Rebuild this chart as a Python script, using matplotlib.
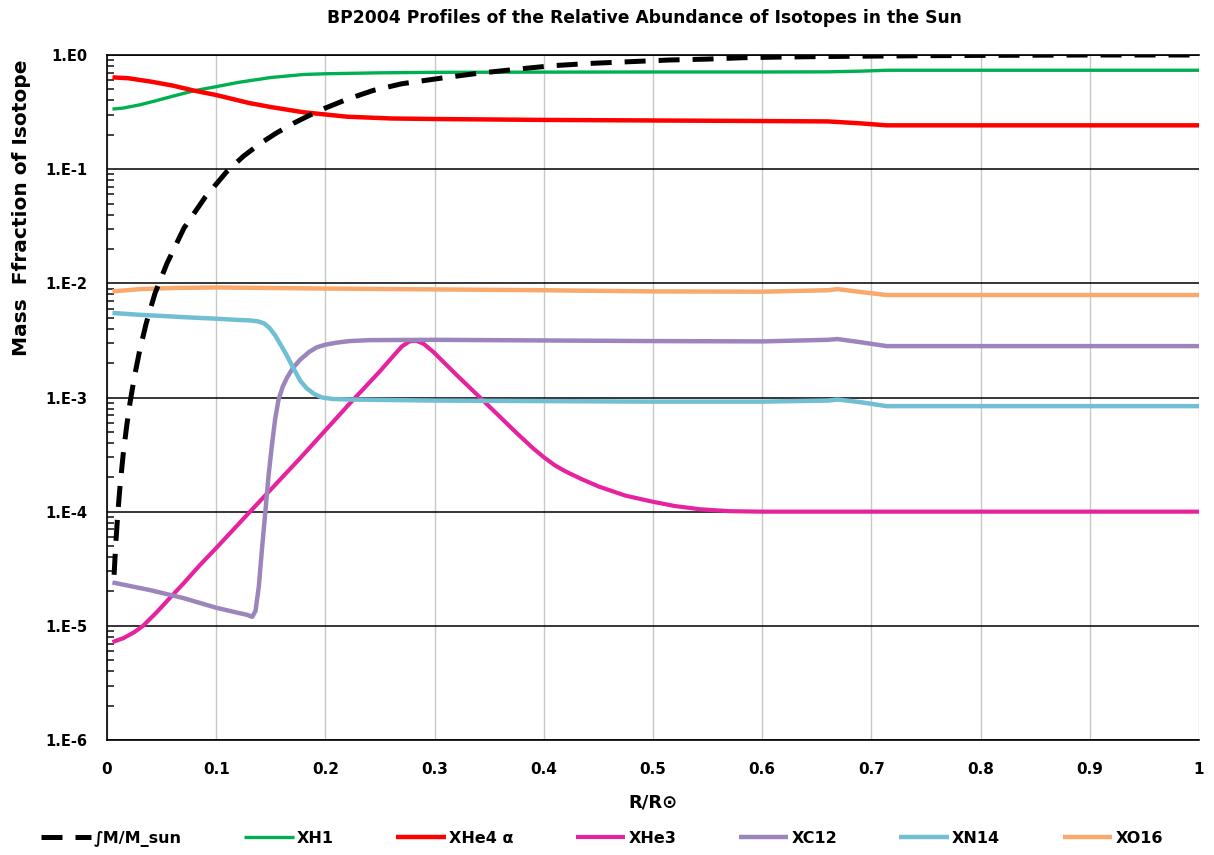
import numpy as np
import matplotlib
matplotlib.use("Agg")
import matplotlib.pyplot as plt
from matplotlib.ticker import LogLocator, FuncFormatter, FixedLocator, NullFormatter

plt.rcParams["font.family"] = ["DejaVu Sans"]

# Enclosed mass fraction
r_mass = [0.0065, 0.008, 0.010, 0.012, 0.015, 0.018, 0.021, 0.025, 0.030, 0.036,
          0.044, 0.055, 0.0705, 0.090, 0.110, 0.125, 0.140, 0.155, 0.171, 0.185,
          0.200, 0.220, 0.244, 0.270, 0.305, 0.339, 0.375, 0.408, 0.445, 0.479,
          0.515, 0.549, 0.583, 0.620, 0.660, 0.700, 0.750, 0.800, 0.850, 0.900,
          1.000]
m_frac = [2.8e-5, 5.2e-5, 1.0e-4, 1.7e-4, 3.3e-4, 5.6e-4, 8.9e-4, 1.5e-3, 2.6e-3, 4.5e-3,
          8.2e-3, 1.5e-2, 3.05e-2, 5.7e-2, 0.096, 0.130, 0.167, 0.207, 0.253, 0.295,
          0.343, 0.410, 0.490, 0.560, 0.625, 0.690, 0.750, 0.806, 0.846, 0.874,
          0.904, 0.920, 0.947, 0.960, 0.970, 0.978, 0.986, 0.992, 0.996, 1.000,
          1.000]

# Hydrogen
r_h1 = [0.005, 0.015, 0.03, 0.045, 0.06, 0.08, 0.10, 0.12, 0.15, 0.18, 0.20, 0.25,
        0.30, 0.40, 0.50, 0.60, 0.66, 0.69, 0.714, 0.80, 0.90, 1.00]
x_h1 = [0.336, 0.343, 0.366, 0.398, 0.435, 0.487, 0.528, 0.575, 0.635, 0.675, 0.685, 0.698,
        0.705, 0.708, 0.71, 0.71, 0.712, 0.722, 0.735, 0.735, 0.735, 0.735]

# Helium-4
r_he4 = [0.005, 0.02, 0.04, 0.06, 0.08, 0.10, 0.13, 0.15, 0.18, 0.22, 0.26, 0.30,
         0.40, 0.50, 0.60, 0.66, 0.69, 0.714, 0.80, 0.90, 1.00]
x_he4 = [0.637, 0.625, 0.585, 0.54, 0.487, 0.446, 0.38, 0.35, 0.315, 0.288, 0.278, 0.275,
         0.27, 0.267, 0.264, 0.262, 0.252, 0.242, 0.242, 0.242, 0.242]

# Helium-3
r_he3 = [0.005, 0.015, 0.025, 0.033, 0.045, 0.055, 0.070, 0.085, 0.100, 0.131,
         0.177, 0.222, 0.250, 0.262, 0.270, 0.277, 0.283, 0.290, 0.299, 0.320,
         0.344, 0.375, 0.390, 0.400, 0.410, 0.420, 0.435, 0.451, 0.475, 0.500,
         0.520, 0.543, 0.570, 0.600, 0.700, 0.800, 0.900, 1.000]
x_he3 = [7.2e-6, 7.8e-6, 8.8e-6, 1.0e-5, 1.3e-5, 1.65e-5, 2.35e-5, 3.4e-5, 4.8e-5, 1.0e-4,
         2.95e-4, 8.8e-4, 1.7e-3, 2.3e-3, 2.8e-3, 3.1e-3, 3.15e-3, 2.95e-3, 2.5e-3, 1.58e-3,
         9.5e-4, 4.9e-4, 3.6e-4, 3.0e-4, 2.55e-4, 2.25e-4, 1.92e-4, 1.65e-4, 1.38e-4, 1.22e-4,
         1.12e-4, 1.05e-4, 1.01e-4, 1.0e-4, 1.0e-4, 1.0e-4, 1.0e-4, 1.0e-4]

# Carbon-12
r_c12 = [0.005, 0.04, 0.07, 0.10, 0.12, 0.128, 0.133, 0.136, 0.139, 0.142,
         0.145, 0.148, 0.151, 0.154, 0.157, 0.161, 0.165, 0.170, 0.177, 0.185,
         0.192, 0.200, 0.210, 0.222, 0.240, 0.30, 0.40, 0.50, 0.60, 0.66,
         0.669, 0.69, 0.714, 0.80, 0.90, 1.00]
x_c12 = [2.4e-5, 2.05e-5, 1.75e-5, 1.44e-5, 1.3e-5, 1.25e-5, 1.2e-5, 1.35e-5, 2.2e-5, 4.8e-5,
         1.0e-4, 2.1e-4, 3.8e-4, 6.5e-4, 9.5e-4, 1.25e-3, 1.5e-3, 1.8e-3, 2.15e-3, 2.5e-3,
         2.75e-3, 2.9e-3, 3.02e-3, 3.12e-3, 3.18e-3, 3.2e-3, 3.16e-3, 3.12e-3, 3.1e-3, 3.2e-3,
         3.25e-3, 3.05e-3, 2.82e-3, 2.82e-3, 2.82e-3, 2.82e-3]

# Nitrogen-14
r_n14 = [0.005, 0.03, 0.055, 0.08, 0.10, 0.12, 0.130, 0.138, 0.144, 0.149,
         0.154, 0.159, 0.164, 0.170, 0.177, 0.183, 0.190, 0.197, 0.207, 0.222,
         0.30, 0.40, 0.50, 0.60, 0.66, 0.669, 0.69, 0.714, 0.80, 0.90, 1.00]
x_n14 = [5.5e-3, 5.3e-3, 5.15e-3, 5.0e-3, 4.9e-3, 4.78e-3, 4.74e-3, 4.65e-3, 4.45e-3, 4.05e-3,
         3.5e-3, 2.9e-3, 2.4e-3, 1.86e-3, 1.4e-3, 1.2e-3, 1.07e-3, 1.0e-3, 9.7e-4, 9.6e-4,
         9.4e-4, 9.3e-4, 9.2e-4, 9.2e-4, 9.4e-4, 9.6e-4, 9.1e-4, 8.4e-4, 8.4e-4, 8.4e-4, 8.4e-4]

# Oxygen-16
r_o16 = [0.005, 0.03, 0.06, 0.10, 0.20, 0.30, 0.40, 0.50, 0.60, 0.66,
         0.669, 0.69, 0.714, 0.80, 0.90, 1.00]
x_o16 = [8.5e-3, 8.9e-3, 9.1e-3, 9.2e-3, 9.0e-3, 8.85e-3, 8.7e-3, 8.5e-3, 8.45e-3, 8.7e-3,
         8.9e-3, 8.4e-3, 7.9e-3, 7.9e-3, 7.9e-3, 7.9e-3]

x_ticks = [0, 0.1, 0.2, 0.3, 0.4, 0.5, 0.6, 0.7, 0.8, 0.9, 1.0]
x_tick_labels = ["0", "0.1", "0.2", "0.3", "0.4", "0.5", "0.6", "0.7", "0.8", "0.9", "1"]

fig = plt.figure(figsize=(12.14, 8.55), dpi=100)
ax = fig.add_axes([107 / 1214, 1 - 740 / 855, 1092 / 1214, 685 / 855])

series = [
    (r_h1, x_h1, "#00b050", 2.4, "XH1"),
    (r_he4, x_he4, "#ff0000", 3.2, "XHe4 \u03b1"),
    (r_he3, x_he3, "#e6239f", 3.0, "XHe3"),
    (r_c12, x_c12, "#9b85ba", 3.2, "XC12"),
    (r_n14, x_n14, "#70bfd2", 3.2, "XN14"),
    (r_o16, x_o16, "#f9a96c", 3.2, "XO16"),
]
handles = {}
for z, (rr, vv, col, lw, lab) in enumerate(series):
    (ln,) = ax.plot(rr, vv, color=col, lw=lw, label=lab, zorder=3 + z,
                    solid_joinstyle="round", solid_capstyle="butt")
    handles[lab] = ln

(mass_line,) = ax.plot(r_mass, m_frac, color="black", lw=3.6, dashes=(4.2, 2.6),
                       label="\u222bM/M_sun", zorder=10)

ax.set_yscale("log")
ax.set_ylim(1e-6, 1)
ax.set_xlim(0, 1)

# y axis: decade labels in spreadsheet style, minor ticks inside
ax.yaxis.set_major_locator(LogLocator(base=10, numticks=10))
ax.yaxis.set_major_formatter(
    FuncFormatter(lambda v, p: "1.E%d" % int(round(np.log10(v)))))
ax.yaxis.set_minor_locator(LogLocator(base=10, subs=np.arange(2, 10), numticks=20))
ax.yaxis.set_minor_formatter(NullFormatter())
ax.tick_params(axis="y", which="major", length=0, pad=14, labelsize=10.5)
ax.tick_params(axis="y", which="minor", direction="in", length=5, width=1.3,
               color="#333333")
for t in ax.get_yticklabels():
    t.set_fontweight("bold")

ax.xaxis.set_major_locator(FixedLocator(x_ticks))
ax.set_xticklabels(x_tick_labels, fontweight="bold")
ax.tick_params(axis="x", length=0, pad=16, labelsize=11)

ax.yaxis.grid(True, which="major", color="black", lw=1.1, zorder=1)
ax.xaxis.grid(True, which="major", color="#c8c8c8", lw=1.0, zorder=1)
ax.set_axisbelow(True)

for side in ["left", "bottom", "top"]:
    ax.spines[side].set_color("black")
    ax.spines[side].set_linewidth(1.2)
ax.spines["right"].set_visible(False)

ax.set_xlabel("R/R\u2299", fontsize=13, fontweight="bold", labelpad=12)
fig.text(22 / 1214, 1 - 208 / 855, "Mass  Ffraction of Isotope", rotation=90,
         ha="center", va="center", fontsize=14.5, fontweight="bold")

fig.text(644 / 1214, 1 - 18 / 855,
         "BP2004 Profiles of the Relative Abundance of Isotopes in the Sun",
         ha="center", va="center", fontsize=12.3, fontweight="bold")

leg_handles = [mass_line] + [handles[s[4]] for s in series]
leg = fig.legend(handles=leg_handles, labels=[h.get_label() for h in leg_handles],
                 loc="center", bbox_to_anchor=(602 / 1214, 16 / 855), ncol=7,
                 frameon=False, handlelength=3.1, columnspacing=3.9,
                 handletextpad=0.2, borderpad=0.0, borderaxespad=0.0,
                 prop={"weight": "bold", "size": 11.5})

plt.savefig("out.png", dpi=100, facecolor="white")
plt.close(fig)
